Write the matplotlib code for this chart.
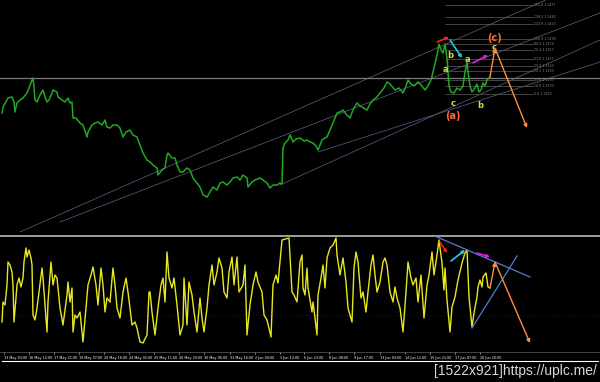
import matplotlib
matplotlib.use("Agg")
import matplotlib.pyplot as plt

# price series (time position, price level in points)
price_x = [2, 3, 8, 12, 14, 15, 17, 20, 23, 27, 29, 32, 33, 34, 35, 37, 40, 43, 45, 47,
           49, 52, 53, 57, 58, 62, 65, 68, 70, 72, 73, 76, 80, 83, 87, 88, 92, 95, 98, 102,
           105, 107, 110, 113, 117, 120, 123, 126, 130, 133, 137, 140,
           143, 147, 150, 153, 157, 158, 162, 165, 167, 168, 172, 175, 177, 180, 183, 187,
           190, 193, 197, 200, 203, 207, 210, 213, 217, 220, 223, 227, 230, 233, 237, 240,
           243, 247, 248, 252, 255, 260, 263, 267, 270, 273, 277, 280, 282,
           283, 285, 288, 290, 293, 296, 300, 304, 307, 310, 313, 316, 318, 320, 322, 325,
           327, 330, 333, 335, 337, 340, 343, 346, 350, 353, 357, 360, 362, 365, 367, 370,
           373, 376,
           380, 384, 387, 390, 395, 399, 403, 406, 408, 411, 414, 418, 421, 425, 428, 431,
           434, 437, 439, 441, 443, 445, 447, 448, 449, 451, 454, 457, 460, 463, 465, 467,
           468, 470, 472, 475, 477, 479, 481, 483, 485, 487, 490]
price_v = [119, 125, 134, 135, 130, 120, 129, 132, 134, 139, 144, 152, 154, 145, 132, 130, 137, 142, 135, 130,
           132, 139, 142, 140, 135, 132, 130, 134, 129, 130, 114, 114, 109, 107, 95, 100, 107, 109, 110, 107,
           112, 105, 104, 107, 107, 104, 95, 100, 102, 97, 95, 87,
           79, 72, 70, 67, 64, 57, 62, 64, 77, 79, 74, 74, 67, 60, 60, 64,
           62, 54, 49, 45, 37, 35, 40, 45, 42, 49, 50, 47, 50, 54, 55, 52,
           57, 54, 45, 50, 52, 54, 52, 49, 44, 47, 47, 49, 48,
           84, 89, 92, 97, 90, 93, 94, 91, 92, 90, 89, 86, 82, 87, 92, 94,
           95, 102, 109, 114, 119, 120, 122, 118, 114, 122, 129, 126, 125, 123, 122, 128,
           132, 134,
           139, 144, 150, 148, 142, 144, 139, 146, 152, 148, 146, 150, 147, 142, 146, 152,
           164, 177, 188, 182, 179, 188, 174, 160, 146, 140, 139, 144, 142, 146, 160, 170,
           160, 146, 140, 144, 148, 140, 142, 149, 146, 152, 155]

# oscillator series
osc_x = [2, 3, 5, 7, 8, 10, 12, 13, 14, 16, 17, 19, 21, 23, 24, 26, 27, 29, 31, 32,
         33, 35, 37, 39, 42, 43, 45, 47, 48, 51, 53, 55, 57, 60, 63, 67, 68, 70, 72, 73,
         75, 77, 80, 83, 86, 88, 91, 93, 96, 98, 101, 103, 105, 107, 110, 113, 115, 117, 120, 123,
         126, 128, 132, 135, 137, 140, 143, 147, 149,
         150, 152, 155, 158, 161, 163, 165, 167, 169, 172, 174, 177, 180, 183, 184, 187, 189, 192, 194, 197,
         200, 202, 204, 207, 209, 212, 214, 217, 219, 222, 224, 227, 229, 232, 234, 237, 239, 243, 245, 247,
         250, 253, 256, 258, 262, 264, 267, 271, 273, 276, 278, 282, 289, 292, 294, 297, 299,
         300, 302, 303, 305, 307, 308, 312, 313, 315, 317, 318, 321, 323, 325, 327, 330, 333, 336, 337, 340,
         343, 346, 348, 352, 354, 356, 358, 361, 363, 366, 368, 371, 373, 375, 377, 380, 383, 385, 387, 390,
         393, 395, 397, 400, 403, 406, 408, 411, 413, 416, 418, 421, 424, 427, 429, 432, 434, 437,
         439, 442, 444, 445, 447, 450, 452, 455, 458, 462, 465, 467, 469, 472, 474, 477, 478, 480, 482, 483,
         486, 488, 490]
osc_v = [28, 48, 45, 65, 88, 85, 78, 65, 28, 52, 65, 72, 63, 72, 88, 102, 93, 100, 92, 85,
         35, 30, 42, 58, 82, 72, 45, 18, 48, 88, 65, 75, 72, 42, 25, 55, 68, 48, 62, 18,
         35, 32, 38, 8, 42, 65, 75, 83, 65, 45, 82, 65, 38, 52, 48, 82, 65, 42, 32, 58,
         72, 58, 25, 28, 22, 8, 7, 15, 58,
         58, 38, 15, 42, 65, 72, 48, 98, 72, 62, 72, 45, 15, 25, 72, 25, 68, 55, 38, 18,
         52, 32, 18, 42, 65, 85, 65, 78, 92, 82, 58, 52, 78, 93, 65, 93, 58, 65, 85, 15,
         45, 65, 78, 68, 58, 35, 30, 13, 65, 75, 67, 110, 112, 58, 55, 48, 75,
         88, 95, 62, 55, 82, 62, 38, 48, 32, 15, 55, 72, 85, 62, 92, 102, 105, 112, 95, 75,
         92, 68, 42, 28, 82, 98, 88, 52, 58, 38, 58, 85, 95, 75, 58, 68, 88, 92, 85, 58,
         48, 63, 52, 42, 18, 58, 88, 72, 65, 72, 48, 75, 32, 65, 75, 98, 75, 95,
         110, 87, 60, 82, 50, 18, 43, 53, 70, 87, 97, 100, 53, 23, 37, 53, 63, 70, 63, 73,
         77, 63, 62]

# time axis
time_ticks = [4, 29, 54, 79, 104, 129, 154, 179, 204, 230, 255, 280, 304, 329, 354, 380, 405, 430, 455, 480]
time_labels = ["13 May 03:00", "16 May 12:00", "17 May 21:00", "19 May 07:00", "20 May 16:00",
               "24 May 02:00", "25 May 11:00", "26 May 20:00", "30 May 06:00", "31 May 16:00",
               "2 Jun 04:00", "3 Jun 13:00", "6 Jun 23:00", "8 Jun 08:00", "9 Jun 17:00",
               "13 Jun 03:00", "14 Jun 12:00", "15 Jun 21:00", "17 Jun 07:00", "20 Jun 16:00"]

# fibo levels
fib_ratios = ["0.0", "14.6", "23.6", "38.2", "50.0", "61.8", "76.4", "88.6", "100.0", "123.6", "138.2", "161.8"]
fib_levels = [138, 146, 152, 161, 166, 173, 182, 188, 193, 208, 215, 227]
fib_prices = ["1.1250", "1.1270", "1.1283", "1.1303", "1.1320", "1.1337", "1.1357", "1.1374",
              "1.1390", "1.1423", "1.1443", "1.1477"]

# channel lines on price chart (x0, v0, x1, v1)
channels = [(20, 0, 600, 256), (60, 10, 600, 219), (318, 80, 600, 170), (280, 47, 600, 192)]
level_line = 154
osc_level = 35

fig = plt.figure(figsize=(6, 3.82), dpi=100, facecolor="black")
ax = fig.add_axes([0, 149 / 382, 1, 233 / 382])
ax2 = fig.add_axes([0, 30 / 382, 1, 116 / 382])

for a in (ax, ax2):
    a.set_facecolor("black")
    a.set_xlim(0, 600)
    for s in a.spines.values():
        s.set_visible(False)

ax.set_ylim(-1, 232)
ax.set_xticks([])
ax.set_yticks([])

# channel lines
for x0, v0, x1, v1 in channels:
    ax.plot([x0, x1], [v0, v1], color="#5a5a7e", lw=0.55, zorder=1)
ax.axhline(level_line, color="#7a7a7a", lw=0.9, zorder=1)

# fibo
for r, lv, p in zip(fib_ratios, fib_levels, fib_prices):
    ax.plot([445, 533], [lv, lv], color="#5e5e5e", lw=0.5, zorder=1)
    ax.text(534, lv, r + " " + p, color="#8a8a8a", fontsize=2.3, va="center", ha="left")

ax.plot(price_x, price_v, color="#22a822", lw=1.1, zorder=3)

# arrows
def arrow(a, p0, p1, c, lw=1.0, ms=5):
    a.annotate("", xy=p1, xytext=p0,
               arrowprops=dict(arrowstyle="-|>", color=c, lw=lw, mutation_scale=ms,
                               shrinkA=0, shrinkB=0), zorder=5)

arrow(ax, (437, 190), (449, 195), "#ff2020", 1.2, 4)
arrow(ax, (450, 192), (462, 174), "#20d0e0", 1.2, 4)
arrow(ax, (473, 169), (488, 177), "#e020e0", 1.2, 4)
arrow(ax, (490, 155), (495, 184), "#ff8c40", 1.0, 5)
arrow(ax, (495, 184), (527, 104), "#ff8c40", 1.0, 5)

lab = "#c8e040"
ax.text(450, 177, "b", color=lab, fontsize=6, ha="center", va="center", fontweight="bold")
ax.text(445, 163, "a", color=lab, fontsize=6, ha="center", va="center", fontweight="bold")
ax.text(467, 173, "a", color=lab, fontsize=6, ha="center", va="center", fontweight="bold")
ax.text(453, 129, "c", color=lab, fontsize=6, ha="center", va="center", fontweight="bold")
ax.text(480, 126, "b", color=lab, fontsize=6, ha="center", va="center", fontweight="bold")
ax.text(494, 185, "c", color=lab, fontsize=6, ha="center", va="center", fontweight="bold")
ax.text(494, 194, "(c)", color="#ff6a30", fontsize=7, ha="center", va="center", fontweight="bold")
ax.text(453, 116, "(a)", color="#ff6a30", fontsize=7, ha="center", va="center", fontweight="bold")

# oscillator
ax2.set_ylim(-2, 114)
ax2.spines["top"].set_visible(True)
ax2.spines["top"].set_color("#a0a0a0")
ax2.spines["top"].set_linewidth(1.4)
ax2.spines["bottom"].set_visible(True)
ax2.spines["bottom"].set_color("#606060")
ax2.spines["bottom"].set_linewidth(0.5)
ax2.set_yticks([])
ax2.axhline(osc_level, color="#3a1010", lw=0.6, ls=":", zorder=1)
ax2.plot(osc_x, osc_v, color="#e8e820", lw=1.0, zorder=3)

ax2.plot([437, 530], [113, 73], color="#4f7fd0", lw=0.9, zorder=4)
ax2.plot([472, 517], [22, 94], color="#4f7fd0", lw=0.9, zorder=4)
arrow(ax2, (440, 108), (447, 97), "#ff2020", 1.2, 4)
arrow(ax2, (451, 89), (465, 100), "#20d0e0", 1.2, 4)
arrow(ax2, (477, 97), (490, 93), "#e020e0", 1.2, 4)
arrow(ax2, (490, 62), (495, 88), "#ff8c40", 1.0, 5)
arrow(ax2, (495, 88), (530, 7), "#ff8c40", 1.0, 5)

ax2.set_xticks(time_ticks)
ax2.set_xticklabels(time_labels, ha="left")
ax2.tick_params(axis="x", colors="white", labelsize=2.4, length=1.5, width=0.4, pad=1.2)

# frame line and caption
fig.add_artist(plt.Line2D([2 / 600, 598 / 600], [21 / 382, 21 / 382], color="white", lw=0.8))
fig.text(597 / 600, 11 / 382, "[1522x921]https://uplc.me/", color="#d8d8d8",
         fontsize=10, family="Liberation Sans", ha="right", va="center")

fig.savefig("out.png", dpi=100, facecolor="black")
